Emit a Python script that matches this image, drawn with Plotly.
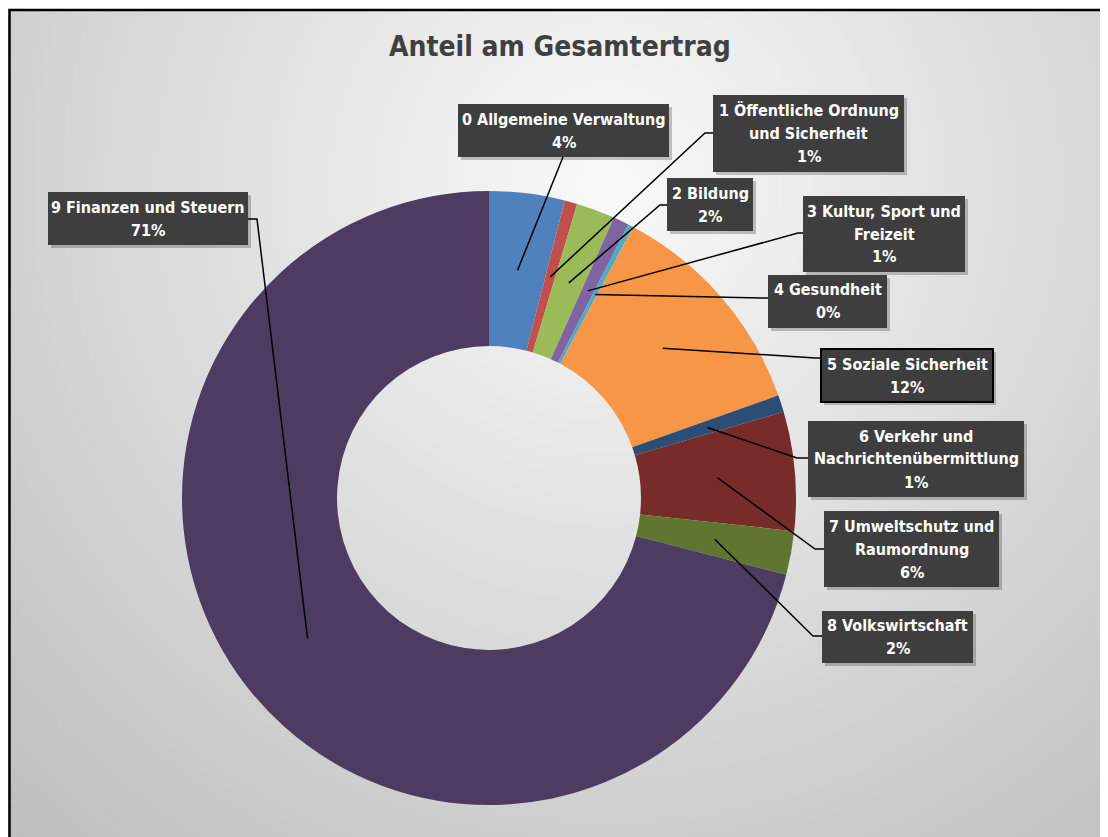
import base64, math, struct, zlib
import plotly.graph_objects as go

# ---------------- data ----------------
labels = ["0 Allgemeine Verwaltung", "1 Öffentliche Ordnung und Sicherheit", "2 Bildung",
          "3 Kultur, Sport und Freizeit", "4 Gesundheit", "5 Soziale Sicherheit",
          "6 Verkehr und Nachrichtenübermittlung", "7 Umweltschutz und Raumordnung",
          "8 Volkswirtschaft", "9 Finanzen und Steuern"]
values = [3.97, 0.67, 2.03, 0.83, 0.28, 11.8, 0.90, 6.25, 2.30, 71.0]
label_lines = [["0 Allgemeine Verwaltung"], ["1 Öffentliche Ordnung", "und Sicherheit"],
               ["2 Bildung"], ["3 Kultur, Sport und", "Freizeit"], ["4 Gesundheit"],
               ["5 Soziale Sicherheit"], ["6 Verkehr und", "Nachrichtenübermittlung"],
               ["7 Umweltschutz und", "Raumordnung"], ["8 Volkswirtschaft"],
               ["9 Finanzen und Steuern"]]
colors = ["#4F81BD", "#C0504D", "#9BBB59", "#8064A2", "#4BACC6", "#F79646",
          "#2C4D75", "#772C2A", "#5F7530", "#4D3B62"]
title = "Anteil am Gesamtertrag"

# ---------------- layout constants (window pixels) ----------------
OFF = 8                      # default page body margin
W, H = 1108 - OFF, 837 - OFF  # figure size
CX, CY, R_OUT, HOLE = 489, 498, 307, 0.495
R_MID = R_OUT * (1 + HOLE) / 2
FONT = "Liberation Sans Narrow, DejaVu Sans Condensed, Arial Narrow, sans-serif"

boxes = [(458, 104, 669, 157), (713, 95, 904, 172), (667, 178, 753, 231),
         (803, 196, 965, 272), (768, 275, 887, 328), (821, 349, 993, 402),
         (808, 421, 1024, 497), (824, 511, 999, 587), (822, 611, 973, 663),
         (48, 192, 248, 245)]
leader_start = [[(563, 157)], [(713, 133), (705, 133)], [(667, 205), (660, 205)],
                [(803, 233), (798, 233)], [(768, 298), (762, 298)],
                [(821, 358), (815, 358)], [(808, 458), (797, 458)],
                [(824, 549), (815, 549)], [(822, 636), (813, 636)],
                [(248, 219), (257, 219)]]


def px(x):
    return (x - OFF) / W


def py(y):
    return 1 - (y - OFF) / H


# ---------------- background gradient image ----------------
def gradient_png(w, h):
    rows = []
    fx, fy = w / 1103.0, h / 827.0
    ccx, ccy = 600 * fx, 170 * fy
    dmax = math.hypot(600 * fx, 660 * fy)
    for j in range(h):
        row = bytearray([0])
        for i in range(w):
            d = math.hypot(i - ccx, j - ccy) / dmax
            v = int(max(185, min(250, 250 - 60 * d)))
            row += bytes((v, v, v))
        rows.append(bytes(row))
    raw = b"".join(rows)

    def chunk(tag, data):
        c = tag + data
        return struct.pack(">I", len(data)) + c + struct.pack(">I", zlib.crc32(c) & 0xffffffff)

    png = b"\x89PNG\r\n\x1a\n" + chunk(b"IHDR", struct.pack(">IIBBBBB", w, h, 8, 2, 0, 0, 0))
    png += chunk(b"IDAT", zlib.compress(raw, 9)) + chunk(b"IEND", b"")
    return "data:image/png;base64," + base64.b64encode(png).decode()


bg = gradient_png(276, 207)

# ---------------- figure ----------------
fig = go.Figure()
fig.add_trace(go.Pie(
    labels=labels, values=values, sort=False, direction="clockwise", rotation=0,
    hole=HOLE, marker=dict(colors=colors, line=dict(width=0)),
    textinfo="none", showlegend=False,
    domain=dict(x=[px(CX - R_OUT), px(CX + R_OUT)], y=[py(CY + R_OUT), py(CY - R_OUT)]),
))

shapes = []
annotations = []
total = sum(values)
cum = 0.0
for i, v in enumerate(values):
    mid = (cum + v / 2) / total * 2 * math.pi
    cum += v
    ax_, ay_ = CX + R_MID * math.sin(mid), CY - R_MID * math.cos(mid)
    pts = leader_start[i] + [(ax_, ay_)]
    path = "M " + " L ".join(f"{px(x):.5f},{py(y):.5f}" for x, y in pts)
    shapes.append(dict(type="path", path=path, xref="paper", yref="paper",
                       line=dict(color="black", width=1.5), layer="above"))
    x0, y0, x1, y1 = boxes[i]
    shapes.append(dict(type="rect", xref="paper", yref="paper",
                       x0=px(x0 + 3), x1=px(x1 + 3), y0=py(y0 + 3), y1=py(y1 + 3),
                       fillcolor="rgba(0,0,0,0.22)", line=dict(width=0), layer="above"))
    shapes.append(dict(type="rect", xref="paper", yref="paper",
                       x0=px(x0), x1=px(x1), y0=py(y0), y1=py(y1),
                       fillcolor="#3E3E3E",
                       line=dict(color="black", width=2) if i == 5 else dict(width=0),
                       layer="above"))
    pct = f"{round(v / total * 100)}%"
    lines = label_lines[i] + [pct]
    n = len(lines)
    ccy = (y0 + y1) / 2
    for k, t in enumerate(lines):
        yy = ccy + (k - (n - 1) / 2) * 23
        annotations.append(dict(text=f"<b>{t}</b>", x=px((x0 + x1) / 2), y=py(yy),
                                xref="paper", yref="paper", showarrow=False,
                                xanchor="center", yanchor="middle",
                                font=dict(family=FONT, size=16, color="white")))

# chart frame
shapes.append(dict(type="rect", xref="paper", yref="paper", x0=px(9.5), x1=px(1106),
                   y0=py(842), y1=py(10), line=dict(color="black", width=2.5),
                   fillcolor="rgba(0,0,0,0)", layer="above"))

annotations.append(dict(text=f"<b>{title}</b>", x=px(560), y=py(46), xref="paper", yref="paper",
                        showarrow=False, xanchor="center", yanchor="middle",
                        font=dict(family=FONT, size=28, color="#404040")))

fig.update_layout(
    width=W, height=H, margin=dict(l=0, r=0, t=0, b=0),
    paper_bgcolor="white", plot_bgcolor="rgba(0,0,0,0)",
    images=[dict(source=bg, xref="paper", yref="paper", x=px(8), y=py(10),
                 sizex=px(1106) - px(8), sizey=py(10) - py(842), sizing="stretch",
                 xanchor="left", yanchor="top", layer="below")],
    shapes=shapes, annotations=annotations,
)

fig.write_html("out.html")
